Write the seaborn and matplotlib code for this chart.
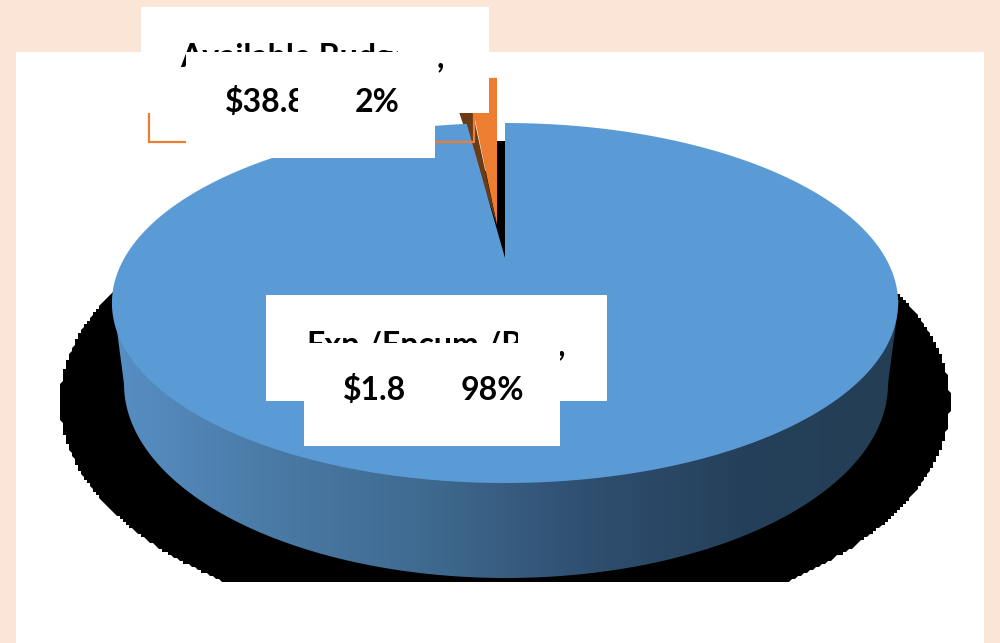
import numpy as np
import matplotlib
matplotlib.use("Agg")
import matplotlib.pyplot as plt
from matplotlib.colors import ListedColormap
from matplotlib.patches import Polygon, Rectangle
import seaborn as sns

# Budget split
categories = ["Exp./Encum./Pre", "Available Budget"]
shares = [98, 2]
amount_labels = ["$1.8", "$38.8"]
share_labels = ["98%", "2%"]
slice_colors = ["#5B9BD5", "#ED7D31"]
wall_stops = ["#578FC4", "#4A7AA6", "#3F6A90", "#2F4F70", "#25405A", "#243E55"]

PAGE = "#FBE5D6"
INK = "#000000"
BROWN = "#6B3A17"

sns.set_theme(style="white")
plt.rcParams["font.family"] = ["Lato", "DejaVu Sans"]

fig = plt.figure(figsize=(10, 6.43), dpi=100, facecolor=PAGE)
ax = fig.add_axes([0, 0, 1, 1])
ax.set_facecolor("none")


def perspective(x, y):
    """Tilt the unit pie into screen pixels; the far rim shrinks."""
    depth = 1 + 0.25 * y
    return 505 + 380.6 * x / depth, 258 - 168.75 * y / depth


wedges, _ = ax.pie(shares, colors=slice_colors, startangle=90, counterclock=False)
outlines = []
for wedge in wedges:
    t = np.radians(np.linspace(wedge.theta1, wedge.theta2, 500))
    xs = np.r_[0, wedge.r * np.cos(t)]
    ys = np.r_[0, wedge.r * np.sin(t)]
    outlines.append(np.column_stack(perspective(xs, ys)))
    wedge.remove()
top_face, small_face = outlines

ax.set_aspect("auto")
ax.set_xlim(0, 1000)
ax.set_ylim(643, 0)
ax.axis("off")

# Chart area
ax.add_patch(Rectangle((16, 52), 968, 591, fc="white", ec="none", zorder=1))

# Black drop shadow with a stepped edge, cut off along the bottom
t = np.linspace(0, 2 * np.pi, 900)
shadow_x = np.round((505 + 445 * np.cos(t)) / 3) * 3
shadow_y = np.minimum(np.round((402 + 232 * np.sin(t)) / 3) * 3, 582)
ax.add_patch(Polygon(np.column_stack([shadow_x, shadow_y]), fc=INK, ec="none", zorder=2))

# Side wall of the disc with a horizontal shade
t = np.radians(np.linspace(180, 0, 400))
wall = np.vstack([[[113, 300]],
                  np.column_stack([506 + 382 * np.cos(t), 384 + 194 * np.sin(t)]),
                  [[899, 300]]])
wall_patch = Polygon(wall, fc="none", ec="none", zorder=3)
ax.add_patch(wall_patch)
shade = ax.imshow(np.linspace(0, 1, 256)[None, :], extent=(113, 899, 643, 0),
                  cmap=ListedColormap(sns.blend_palette(wall_stops, 256)),
                  aspect="auto", zorder=3)
shade.set_clip_path(wall_patch)
ax.set_xlim(0, 1000)
ax.set_ylim(643, 0)

# Inner wall seen through the notch
ax.add_patch(Rectangle((497, 141), 8, 117, fc=INK, ec="none", zorder=4))

# Pulled-out slice with its cut face; it stands taller and narrower than the notch
tip = np.array([497, 225])
small = tip + (small_face - small_face[0]) * [0.8, 1.09]
rim = small[1:][np.argmin(small[1:, 0])]
ax.add_patch(Polygon(small, fc=slice_colors[1], ec="none", zorder=5))
ax.add_patch(Polygon([tip, rim + [-18.6, 0], rim + [-1, 0]], fc=BROWN, ec="none", zorder=6))

# Large slice
ax.add_patch(Polygon(top_face, fc=slice_colors[0], ec="none", zorder=7))

# Callout frame of the small slice; its upper side runs behind the label box
ax.add_patch(Rectangle((149, 108), 325, 34, fc="none", ec=slice_colors[1], lw=1.6, zorder=8))

FONT = dict(fontweight="bold", fontsize=23, color=INK, va="baseline", ha="left")


def box(x0, y0, x1, y1, z):
    ax.add_patch(Rectangle((x0, y0), x1 - x0, y1 - y0, fc="white", ec="none", zorder=z))


# Label of the small slice, overlapped by its neighbouring boxes
box(141, 7, 489, 113, 9)
ax.text(180, 67, categories[1], zorder=10, **FONT)
ax.text(437, 67, ",", zorder=12, **FONT)
box(186, 52, 435, 158, 11)
box(398, 38, 436, 62, 11)
ax.text(225, 112, amount_labels[1] + "8", zorder=12, **FONT)
box(298, 80, 352, 120, 13)
ax.text(355, 112, share_labels[1], zorder=14, **FONT)

# Label of the large slice
box(266, 295, 607, 401, 9)
ax.text(306, 355, categories[0], zorder=10, **FONT)
ax.text(558, 355, ",", zorder=10, **FONT)
box(304, 343, 560, 446, 11)
box(518, 325, 560, 350, 11)
ax.text(343, 400, amount_labels[0], zorder=12, **FONT)
ax.text(461, 400, share_labels[0], zorder=12, **FONT)

fig.savefig("out.png", dpi=100, facecolor=PAGE)
